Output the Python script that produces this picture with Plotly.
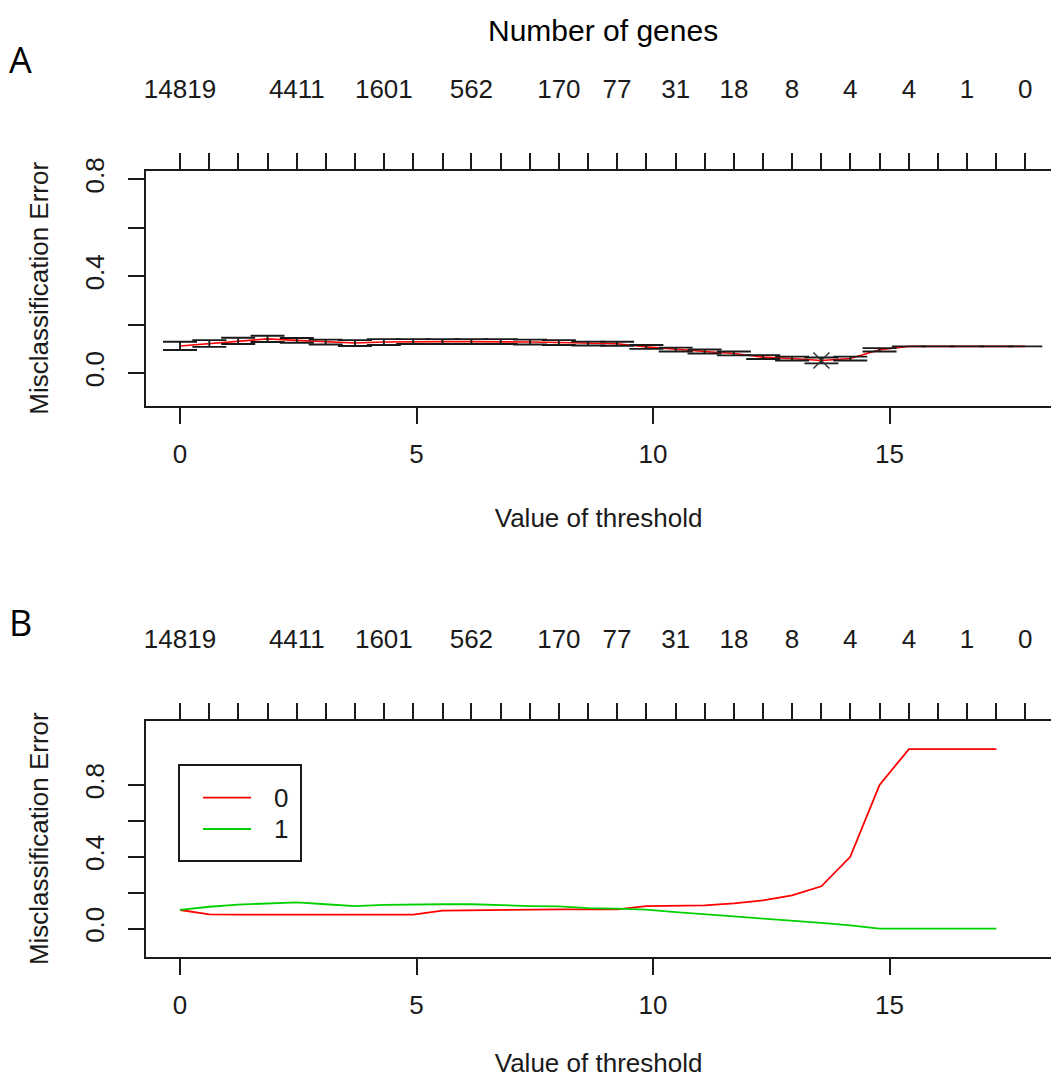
import numpy as np
import plotly.graph_objects as go

# ---------------- data ----------------
thresholds = [0.00, 0.62, 1.23, 1.85, 2.47, 3.08, 3.70, 4.31, 4.93, 5.55,
              6.16, 6.78, 7.40, 8.01, 8.63, 9.24, 9.86, 10.48, 11.09, 11.71,
              12.33, 12.94, 13.56, 14.17, 14.79, 15.41, 16.02, 16.64, 17.26, 17.87]
gene_labels = ["14819", "", "", "", "4411", "", "", "1601", "", "",
               "562", "", "", "170", "", "77", "", "31", "", "18",
               "", "8", "", "4", "", "4", "", "1", "", "0"]
cv_error = [0.112, 0.122, 0.133, 0.141, 0.135, 0.128, 0.124, 0.128, 0.130, 0.130,
            0.130, 0.130, 0.128, 0.126, 0.122, 0.121, 0.108, 0.097, 0.089, 0.081,
            0.066, 0.060, 0.052, 0.060, 0.096, 0.110, 0.110, 0.110, 0.110, 0.110]
cv_se = [0.017, 0.014, 0.013, 0.013, 0.010, 0.010, 0.012, 0.012, 0.010, 0.010,
         0.010, 0.010, 0.010, 0.010, 0.008, 0.008, 0.008, 0.008, 0.008, 0.008,
         0.008, 0.008, 0.012, 0.008, 0.007, 0.0, 0.0, 0.0, 0.0, 0.0]
class_names = ["0", "1"]
class_colors = ["#ff0000", "#00d000"]
class0_error = [0.104, 0.080, 0.078, 0.078, 0.078, 0.078, 0.078, 0.078, 0.078, 0.100,
                0.102, 0.108, 0.108, 0.108, 0.108, 0.108, 0.126, 0.126, 0.130, 0.141,
                0.158, 0.186, 0.236, 0.400, 0.800, 1.000, 1.000, 1.000, 1.000]
class1_error = [0.105, 0.122, 0.134, 0.142, 0.147, 0.136, 0.126, 0.133, 0.136, 0.136,
                0.136, 0.130, 0.126, 0.124, 0.115, 0.112, 0.106, 0.092, 0.082, 0.068,
                0.056, 0.045, 0.032, 0.018, 0.000, 0.000, 0.000, 0.000, 0.000]
x_ticks = [0, 5, 10, 15]
y_ticks = [0.0, 0.2, 0.4, 0.6, 0.8]
y_ticktext = ["0.0", "", "0.4", "", "0.8"]

# ---------------- geometry ----------------
W, H = 1051, 1078
FONT = "Liberation Sans, Arial, sans-serif"
INK = "#1a1a1a"
px_per_unit = 47.3
x0_px = 180.0
left_px = 146.2
xr = [(left_px - x0_px) / px_per_unit, (W - x0_px) / px_per_unit]
xdom = [left_px / W, 1.0]
top_dom = [1 - 406.0 / H, 1 - 170.6 / H]
bot_dom = [1 - 956.7 / H, 1 - 720.7 / H]

def px(xp):
    return xp / W

def py(yp):
    return 1 - yp / H

fig = go.Figure()

# ---- panel A ----
fig.add_trace(go.Scatter(x=thresholds, y=cv_error, mode="lines",
                         line=dict(color="#ff0000", width=1.6),
                         xaxis="x", yaxis="y", showlegend=False, hoverinfo="skip"))
fig.add_trace(go.Scatter(x=thresholds, y=cv_error, mode="markers",
                         marker=dict(size=1, color="rgba(0,0,0,0)"),
                         error_y=dict(type="data", array=cv_se, visible=True,
                                      color=INK, thickness=1.9, width=17),
                         xaxis="x", yaxis="y", showlegend=False, hoverinfo="skip"))
imin = int(np.argmin(cv_error))
fig.add_trace(go.Scatter(x=[thresholds[imin]], y=[cv_error[imin]], mode="markers",
                         marker=dict(symbol="x-thin", size=16,
                                     line=dict(color="#333333", width=1.5)),
                         xaxis="x", yaxis="y", showlegend=False, hoverinfo="skip"))
fig.add_trace(go.Scatter(x=thresholds, y=cv_error, mode="lines", opacity=0,
                         xaxis="x3", yaxis="y", showlegend=False, hoverinfo="skip"))

# ---- panel B ----
n2 = len(class0_error)
for name, col, vals in zip(class_names, class_colors, [class0_error, class1_error]):
    fig.add_trace(go.Scatter(x=thresholds[:n2], y=vals, mode="lines",
                             name=name, line=dict(color=col, width=1.8),
                             xaxis="x2", yaxis="y2", hoverinfo="skip", showlegend=False))
fig.add_trace(go.Scatter(x=thresholds, y=cv_error, mode="lines", opacity=0,
                         xaxis="x4", yaxis="y2", showlegend=False, hoverinfo="skip"))

tickfont = dict(family=FONT, size=26, color=INK)

def bottom_x(anchor):
    return dict(domain=xdom, range=xr, anchor=anchor, tickmode="array",
                tickvals=x_ticks, ticktext=[str(v) for v in x_ticks],
                ticks="outside", ticklen=16, tickwidth=1.6, tickcolor=INK,
                showline=True, linecolor=INK, linewidth=2, showgrid=False,
                zeroline=False, tickfont=tickfont, ticklabelstandoff=8,
                automargin=False,
                title=dict(text="Value of threshold", font=tickfont, standoff=41))

def top_x(over, anchor):
    return dict(domain=xdom, range=xr, overlaying=over, anchor=anchor, side="top",
                tickmode="array", tickvals=thresholds, ticktext=gene_labels,
                ticks="outside", ticklen=16, tickwidth=1.6, tickcolor=INK,
                showline=True, linecolor=INK, linewidth=2, showgrid=False,
                zeroline=False, tickfont=tickfont, ticklabelstandoff=44,
                automargin=False)

def left_y(dom, rng, anchor):
    return dict(domain=dom, range=rng, anchor=anchor, tickmode="array",
                tickvals=y_ticks, ticktext=y_ticktext, tickangle=-90,
                ticks="outside", ticklen=16, tickwidth=1.6, tickcolor=INK,
                showline=True, linecolor=INK, linewidth=2, showgrid=False,
                zeroline=False, tickfont=tickfont, ticklabelstandoff=14,
                automargin=False,
                title=dict(text="Misclassification Error", font=tickfont, standoff=24))

# ---- legend box for panel B (R-style) ----
shapes = [dict(type="rect", xref="paper", yref="paper",
               x0=px(179), x1=px(301), y0=py(861), y1=py(765),
               line=dict(color=INK, width=2), fillcolor="white", layer="above")]
annotations = []
leg_rows = [797.7, 829.0]
for name, col, yrow in zip(class_names, class_colors, leg_rows):
    shapes.append(dict(type="line", xref="paper", yref="paper",
                       x0=px(203), x1=px(251), y0=py(yrow), y1=py(yrow),
                       line=dict(color=col, width=1.8), layer="above"))
    annotations.append(dict(text=name, x=px(281), y=py(yrow), xref="paper", yref="paper",
                            showarrow=False, font=dict(family=FONT, size=26, color=INK),
                            xanchor="center", yanchor="middle"))

annotations += [
    dict(text="Number of genes", x=px(603), y=py(30), xref="paper", yref="paper",
         showarrow=False, font=dict(family=FONT, size=30, color="black"),
         xanchor="center", yanchor="middle"),
    dict(text="A", x=px(20), y=py(60), xref="paper", yref="paper",
         showarrow=False, font=dict(family="Open Sans, Liberation Sans, sans-serif", size=36, color="black"),
         xanchor="center", yanchor="middle"),
    dict(text="B", x=px(20), y=py(622), xref="paper", yref="paper",
         showarrow=False, font=dict(family="Open Sans, Liberation Sans, sans-serif", size=36, color="black"),
         xanchor="center", yanchor="middle"),
]

fig.update_layout(
    width=W, height=H,
    margin=dict(l=0, r=0, t=0, b=0, autoexpand=False),
    paper_bgcolor="white", plot_bgcolor="white",
    font=dict(family=FONT, color=INK),
    xaxis=bottom_x("y"),
    xaxis3=top_x("x", "y"),
    yaxis=left_y(top_dom, [-0.136, 0.836], "x"),
    xaxis2=bottom_x("y2"),
    xaxis4=top_x("x2", "y2"),
    yaxis2=left_y(bot_dom, [-0.156, 1.158], "x2"),
    showlegend=False,
    shapes=shapes,
    annotations=annotations,
)

fig.write_html("out.html", config={"displayModeBar": False},
               post_script="document.body.style.margin='0px';document.body.style.padding='0px';")
